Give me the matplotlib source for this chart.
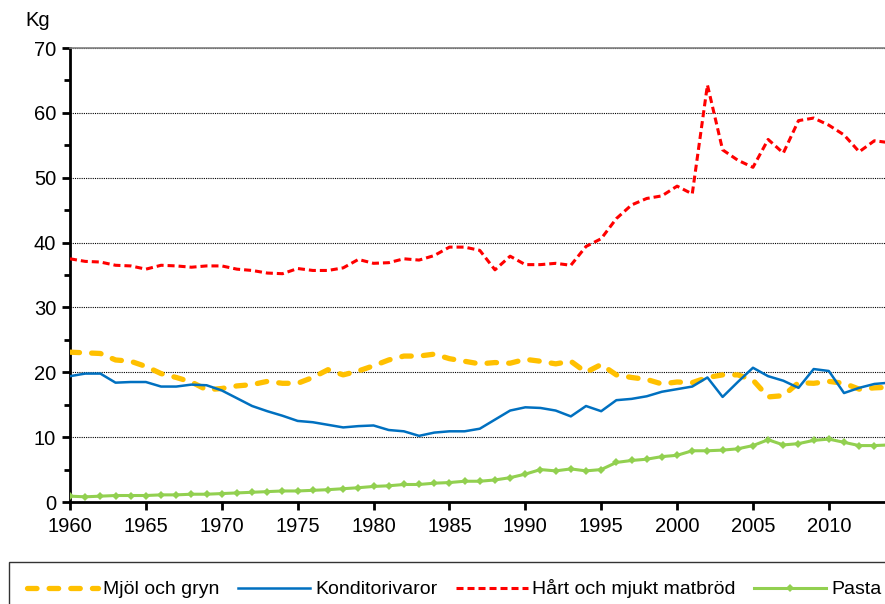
import numpy as np
import matplotlib.pyplot as plt
from matplotlib.ticker import MultipleLocator

plt.rcParams['font.family'] = ['Liberation Sans', 'DejaVu Sans']

YEARS = list(range(1960, 2015))

MJOL = [23.1, 23.0, 22.9, 21.9, 21.7, 20.9, 19.8, 19.2, 18.5, 17.3,
        17.5, 17.9, 18.1, 18.6, 18.3, 18.3, 19.2, 20.4, 19.6, 20.2,
        21.0, 21.9, 22.5, 22.5, 22.8, 22.1, 21.7, 21.3, 21.5, 21.4,
        22.0, 21.7, 21.3, 21.7, 20.0, 21.2, 19.6, 19.2, 18.9, 18.2,
        18.5, 18.4, 19.2, 19.6, 19.6, 18.8, 16.2, 16.4, 18.4, 18.3,
        18.6, 18.3, 17.4, 17.6, 17.7]

KONDITORI = [19.4, 19.8, 19.8, 18.4, 18.5, 18.5, 17.8, 17.8, 18.1, 18.0,
             17.2, 16.0, 14.8, 14.0, 13.3, 12.5, 12.3, 11.9, 11.5, 11.7,
             11.8, 11.1, 10.9, 10.2, 10.7, 10.9, 10.9, 11.3, 12.7, 14.1,
             14.6, 14.5, 14.1, 13.2, 14.8, 14.0, 15.7, 15.9, 16.3, 17.0,
             17.4, 17.8, 19.2, 16.2, 18.5, 20.7, 19.4, 18.7, 17.6, 20.5,
             20.2, 16.8, 17.6, 18.2, 18.4]

MATBROD = [37.5, 37.1, 37.0, 36.5, 36.4, 35.9, 36.5, 36.4, 36.2, 36.4,
           36.4, 35.9, 35.7, 35.3, 35.2, 36.0, 35.7, 35.7, 36.1, 37.4,
           36.8, 36.9, 37.5, 37.3, 38.0, 39.3, 39.3, 38.8, 35.8, 37.9,
           36.6, 36.6, 36.8, 36.5, 39.4, 40.6, 43.7, 45.8, 46.8, 47.2,
           48.7, 47.5, 64.3, 54.3, 52.7, 51.6, 55.9, 53.8, 58.8, 59.2,
           58.1, 56.6, 54.0, 55.7, 55.4]

PASTA = [0.9, 0.8, 0.9, 1.0, 1.0, 1.0, 1.1, 1.1, 1.2, 1.2,
         1.3, 1.4, 1.5, 1.6, 1.7, 1.7, 1.8, 1.9, 2.05, 2.2,
         2.4, 2.5, 2.7, 2.7, 2.9, 3.0, 3.2, 3.2, 3.4, 3.75,
         4.3, 5.0, 4.8, 5.1, 4.8, 5.0, 6.1, 6.4, 6.6, 7.0,
         7.2, 7.9, 7.9, 8.0, 8.2, 8.7, 9.6, 8.8, 9.0, 9.5,
         9.7, 9.2, 8.7, 8.7, 8.8]

LABELS = ["Mjöl och gryn", "Konditorivaror", "Hårt och mjukt matbröd", "Pasta"]


def main() -> None:
    fig = plt.figure(figsize=(8.85, 6.04), dpi=100)
    ax = fig.add_axes([70 / 885, 102 / 604, 815 / 885, 454 / 604])

    ax.plot(YEARS, MJOL, color="#FFC000", linewidth=3.8,
            dashes=(1.8, 2.3), dash_capstyle="round", label=LABELS[0], zorder=3)
    ax.plot(YEARS, KONDITORI, color="#0070C0", linewidth=1.8,
            label=LABELS[1], zorder=4)
    ax.plot(YEARS, MATBROD, color="#FF0000", linewidth=2.2,
            dashes=(2.3, 1.3), label=LABELS[2], zorder=4)
    ax.plot(YEARS, PASTA, color="#92D050", linewidth=2.2, marker="D",
            markersize=4.5, markeredgewidth=0, label=LABELS[3], zorder=4)

    ax.set_xlim(1960, 2013.7)
    ax.set_ylim(0, 70)
    ax.xaxis.set_major_locator(MultipleLocator(5))
    ax.yaxis.set_major_locator(MultipleLocator(10))
    ax.yaxis.set_minor_locator(MultipleLocator(5))

    ax.grid(True, axis="y", which="major", color="black",
            linestyle=(0, (1, 1)), linewidth=0.8)
    ax.set_axisbelow(True)

    for side in ("left", "bottom"):
        ax.spines[side].set_linewidth(2.0)
        ax.spines[side].set_color("black")
    ax.spines["right"].set_visible(False)
    ax.spines["top"].set_color("#808080")
    ax.spines["top"].set_linewidth(1.2)

    ax.tick_params(axis="y", which="major", direction="out", length=6,
                   width=2, labelsize=14.5, pad=4)
    ax.tick_params(axis="y", which="minor", direction="out", length=4, width=2)
    ax.tick_params(axis="x", which="major", direction="out", length=6,
                   width=2, labelsize=14.5, pad=5)

    fig.text(38 / 885, 1 - 21 / 604, "Kg", fontsize=14.5,
             ha="center", va="center")

    leg = fig.legend(loc="upper left", bbox_to_anchor=(9 / 885, 1 - 562 / 604),
                     ncol=4, fontsize=14, frameon=True, fancybox=False,
                     handlelength=3.7, handletextpad=0.25, columnspacing=0.95,
                     borderpad=0.9, borderaxespad=0)
    leg.get_frame().set_edgecolor("black")
    leg.get_frame().set_linewidth(1.0)

    fig.savefig("out.png", dpi=100)


if __name__ == "__main__":
    main()
